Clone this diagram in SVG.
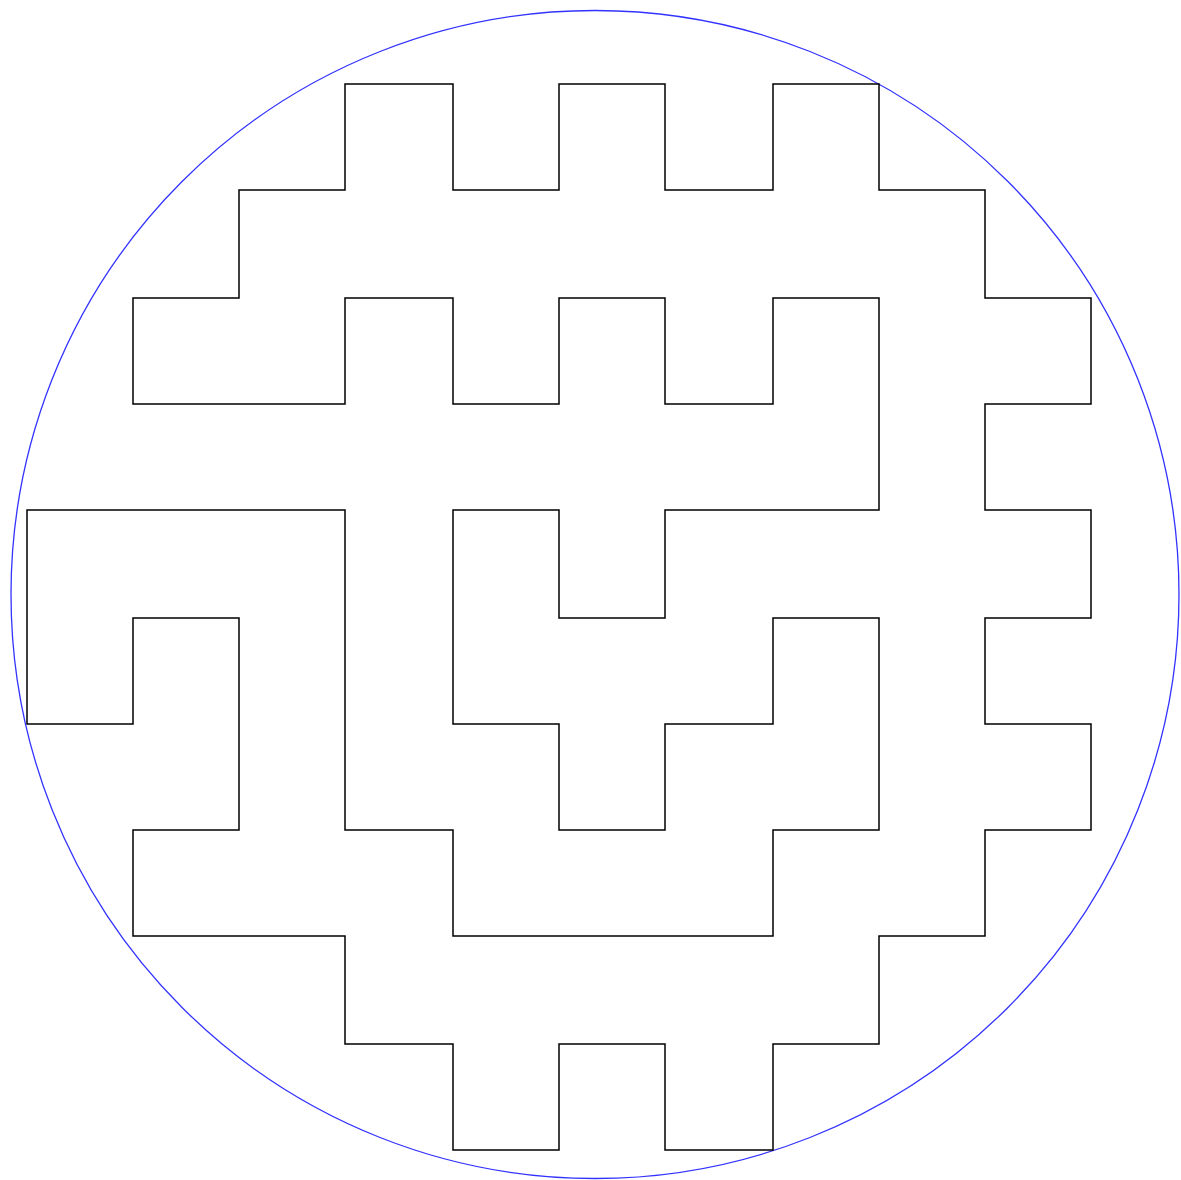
<svg xmlns="http://www.w3.org/2000/svg" width="1181" height="1180" viewBox="0 0 1181 1180">
<style>
.c{fill:none;stroke:#3333ff;stroke-width:1.3}
.p{fill:none;stroke:#000;stroke-width:1.5;stroke-linejoin:miter}
</style>
<rect width="1181" height="1180" fill="#fff"/>
<circle class="c" cx="595" cy="594.5" r="584"/>
<path class="p" d="M345,84 H453 V190 H559 V84 H665 V190 H773 V84 H879 V190 H985 V298 H1091 V404 H985 V510 H1091 V618 H985 V724 H1091 V830 H985 V936 H879 V1044 H773 V1150 H665 V1044 H559 V1150 H453 V1044 H345 V936 H133 V830 H239 V618 H133 V724 H27 V510 H345 V830 H453 V936 H773 V830 H879 V618 H773 V724 H665 V830 H559 V724 H453 V510 H559 V618 H665 V510 H879 V298 H773 V404 H665 V298 H559 V404 H453 V298 H345 V404 H133 V298 H239 V190 H345 Z"/>
</svg>
